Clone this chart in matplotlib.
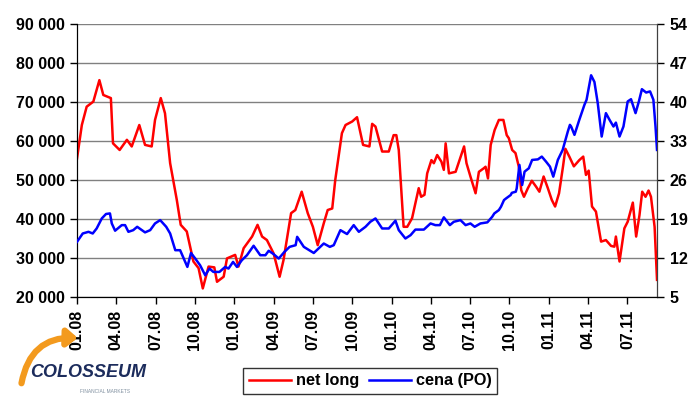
import matplotlib.pyplot as plt
from matplotlib.patches import FancyArrowPatch

plt.rcParams['font.family'] = ['Liberation Sans', 'DejaVu Sans']
plt.rcParams['font.weight'] = 'bold'

# x = weeks from start of 2008
net_long_x = [0, 1.6, 3.2, 5.4, 7.4, 8.7, 11.2, 11.9, 14.1, 16.5, 18.1, 20.6, 22.5, 24.7, 25.8,
              27.7, 29.1, 30.8, 33.0, 34.3, 36.3, 38.5, 40.2, 41.6, 43.5, 45.4, 46.3, 48.5, 49.6,
              52.3, 53.4, 55.1, 57.9, 59.7, 61.2, 62.8, 65.0, 67.0, 68.3, 70.8, 72.2, 74.3, 76.3,
              78.0, 79.6, 81.6, 82.9, 84.4, 85.4, 87.6, 88.8, 91.0, 92.6, 94.6, 96.7, 97.6, 98.7,
              100.9, 103.1, 104.7, 105.6, 106.4, 108.0, 109.2, 110.8, 113.0, 113.8, 114.9, 115.8,
              117.2, 118.0, 119.1, 120.5, 121.3, 121.9, 123.0, 125.2, 128.0, 128.8, 130.1, 131.8,
              132.9, 134.5, 135.1, 135.9, 136.8, 138.1, 139.5, 141.0, 142.1, 142.8, 143.9, 145.0,
              146.1, 146.9, 147.8, 149.1, 150.4, 151.8, 152.9, 154.3, 155.7, 157.0, 158.1, 159.4,
              160.7, 161.5, 162.8, 164.3, 166.1, 167.4, 168.3, 169.2, 170.3, 171.6, 173.3, 174.9,
              176.6, 177.7, 178.2, 179.4, 181.0, 182.1, 183.8, 184.9, 186.0, 186.9, 188.0, 189.0,
              189.8, 191.0, 191.8]
net_long = [55500, 64100, 68800, 70100, 75600, 71800, 71000, 59400, 57700, 60300, 58600, 64100,
            59000, 58600, 65400, 71000, 67100, 54300, 44900, 38500, 36800, 29100, 27400, 22200,
            27800, 27600, 23900, 25200, 29900, 30800, 27800, 32500, 35500, 38500, 35500, 34600,
            31200, 25200, 29500, 41500, 42300, 47000, 41500, 38000, 33300, 38900, 42300, 42700,
            50000, 62000, 64100, 65000, 66100, 59000, 58600, 64400, 63700, 57300, 57300, 61500,
            61500, 57700, 38000, 38000, 40200, 47900, 45700, 46200, 51700, 55100, 54300, 56400,
            54700, 52600, 59400, 51700, 52100, 58600, 54300, 50900, 46600, 52100, 53000, 53400,
            50400, 59000, 62800, 65400, 65400, 61500, 60700, 57700, 56900, 53400, 47400, 45700,
            47900, 49800, 48300, 47000, 50900, 47900, 44900, 43200, 46600, 53400, 58000, 56000,
            53500, 55100, 56000, 51300, 52400, 43200, 41900, 34200, 34600, 33100, 32900, 35500,
            29100, 37600, 39300, 44200, 35500, 41000, 47000, 45700, 47300, 45700, 38000, 24400]

price_x = [0, 1.9, 3.8, 5.2, 6.5, 8.2, 9.6, 10.9, 11.5, 12.6, 14.8, 15.9, 17.0, 18.6, 19.9, 22.5,
           24.2, 25.8, 27.5, 29.5, 30.8, 32.5, 34.1, 36.5, 37.7, 39.1, 40.7, 42.4, 43.8, 45.1,
           47.1, 49.0, 50.1, 51.6, 52.9, 54.5, 56.2, 58.4, 60.6, 62.3, 63.4, 65.0, 66.7, 68.6,
           70.3, 72.3, 72.8, 75.0, 78.3, 81.6, 83.6, 84.9, 87.1, 89.3, 91.5, 93.2, 95.4, 97.0,
           98.7, 100.9, 103.1, 105.3, 106.4, 108.6, 110.3, 111.9, 114.7, 116.9, 118.5, 120.0,
           121.3, 123.3, 124.6, 126.8, 128.5, 130.1, 131.5, 133.4, 135.7, 137.3, 138.0, 139.5,
           140.2, 141.2, 141.9, 143.4, 143.8, 145.1, 145.4, 146.3, 147.2, 148.0, 149.4, 150.5,
           152.4, 153.7, 155.1, 156.4, 157.5, 159.0, 160.6, 161.7, 162.3, 163.0, 163.4, 164.5,
           166.1, 167.8, 168.5, 170.0, 171.1, 172.2, 173.5, 174.9, 176.1, 177.4, 178.2, 179.4,
           180.7, 182.1, 183.2, 184.7, 185.8, 186.8, 188.2, 189.5, 190.6, 191.3, 191.8]
price = [14.9, 16.4, 16.7, 16.4, 17.3, 19.1, 19.9, 20.0, 18.2, 16.9, 17.9, 17.9, 16.7, 17.0, 17.6,
         16.6, 17.0, 18.2, 18.8, 17.6, 16.4, 13.4, 13.4, 10.4, 12.9, 11.9, 10.7, 8.9, 10.1, 9.5,
         9.5, 10.4, 10.1, 11.3, 10.4, 11.6, 12.5, 14.2, 12.5, 12.5, 13.3, 12.7, 11.9, 13.1, 14.0,
         14.3, 15.8, 14.0, 12.9, 14.6, 14.0, 14.3, 17.0, 16.3, 17.9, 16.7, 17.6, 18.5, 19.1, 17.3,
         17.3, 18.7, 17.0, 15.5, 16.1, 17.1, 17.1, 18.2, 17.9, 17.9, 19.3, 17.9, 18.5, 18.8, 17.9,
         18.2, 17.6, 18.2, 18.4, 19.4, 20.0, 20.6, 21.2, 22.4, 22.7, 23.3, 23.7, 23.9, 24.5, 28.7,
         25.1, 27.5, 28.1, 29.6, 29.7, 30.2, 29.3, 28.4, 26.6, 29.6, 31.4, 33.5, 34.7, 35.9, 35.6,
         34.1, 36.8, 39.5, 40.4, 44.8, 43.6, 39.8, 33.8, 38.0, 36.8, 35.6, 36.3, 33.8, 35.6, 40.1,
         40.5, 38.0, 40.1, 42.3, 41.7, 41.9, 40.4, 35.6, 31.4]

tick_labels = ['01.08', '04.08', '07.08', '10.08', '01.09', '04.09', '07.09', '10.09',
               '01.10', '04.10', '07.10', '10.10', '01.11', '04.11', '07.11']
left_ticks = [20000, 30000, 40000, 50000, 60000, 70000, 80000, 90000]
right_ticks = [5, 12, 19, 26, 33, 40, 47, 54]

fig = plt.figure(figsize=(7, 4), dpi=100)
ax = fig.add_axes([0.11, 0.2575, 0.8286, 0.6825])
ax2 = ax.twinx()

ax.plot(net_long_x, net_long, color='#FF0000', lw=1.8, label='net long', zorder=3)
ax2.plot(price_x, price, color='#0000FF', lw=1.8, label='cena (PO)', zorder=3)

ax.set_xlim(0, 191.8)
ax.set_ylim(20000, 90000)
ax2.set_ylim(5, 54)

ax.set_yticks(left_ticks)
ax.set_yticklabels([f'{v:,}'.replace(',', ' ') for v in left_ticks])
ax2.set_yticks(right_ticks)
ax.set_xticks([13 * i for i in range(len(tick_labels))])
ax.set_xticklabels(tick_labels, rotation=90)

ax.grid(axis='y', color='#808080', lw=1)
ax.set_axisbelow(True)
for a in (ax, ax2):
    a.spines['top'].set_visible(False)
    a.tick_params(direction='out', length=5, width=1, labelsize=11.5, pad=4)
ax2.spines['right'].set_color('#404040')

h1, l1 = ax.get_legend_handles_labels()
h2, l2 = ax2.get_legend_handles_labels()
fig.legend(h1 + h2, l1 + l2, loc='center', bbox_to_anchor=(0.529, 0.0475), ncol=2,
           frameon=True, fancybox=False, edgecolor='black', fontsize=11.7,
           handlelength=2.6, handletextpad=0.3, columnspacing=0.6, borderpad=0.35)

# logo
arc = FancyArrowPatch((0.03, 0.035), (0.115, 0.155), transform=fig.transFigure,
                      connectionstyle='arc3,rad=-0.45', arrowstyle='-|>,head_length=6,head_width=5',
                      color='#F39A1E', lw=4.5)
fig.patches.append(arc)
fig.text(0.126, 0.068, 'COLOSSEUM', ha='center', va='center', fontsize=13,
         style='italic', weight='bold', color='#1C2C5C')
fig.text(0.15, 0.022, 'FINANCIAL MARKETS', ha='center', va='center', fontsize=3.5,
         weight='normal', color='#8090A0')

fig.savefig('out.png', dpi=100)
